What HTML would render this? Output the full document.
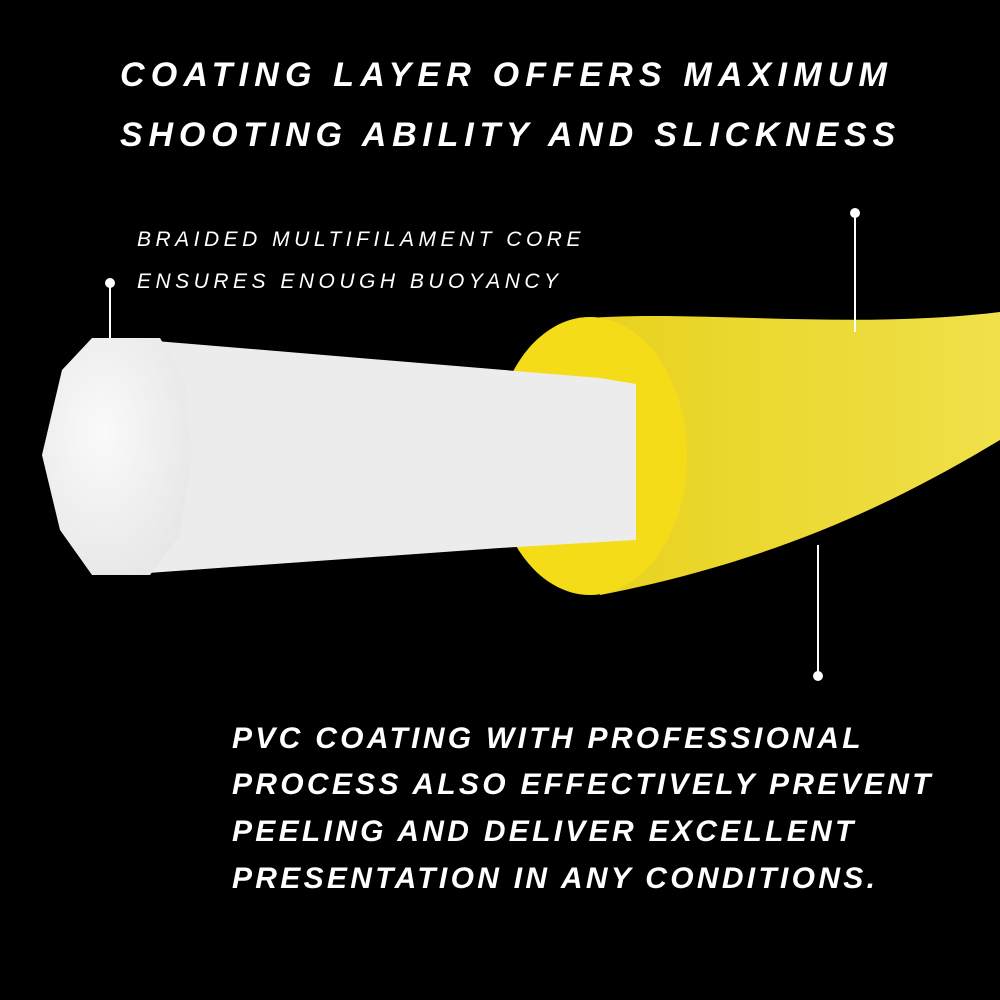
<!DOCTYPE html>
<html><head><meta charset="utf-8"><style>
html,body{margin:0;padding:0;background:#000;}
.w{position:relative;width:1000px;height:1000px;background:#000;overflow:hidden;font-family:"Liberation Sans",sans-serif;color:#fff;}
.t{position:absolute;font-style:italic;font-weight:bold;white-space:nowrap;}
svg{position:absolute;left:0;top:0}
</style></head><body><div class="w">
<svg width="1000" height="1000" viewBox="0 0 1000 1000">
<defs>
<linearGradient id="y" x1="0" y1="0" x2="1" y2="0">
<stop offset="0" stop-color="#e8d21e"/><stop offset="1" stop-color="#f0e04a"/></linearGradient>
<radialGradient id="wf" cx="0.4" cy="0.4" r="0.7"><stop offset="0" stop-color="#fafafa"/><stop offset="1" stop-color="#e6e6e6"/></radialGradient>
</defs>
<path d="M590 318 C700 310 850 330 1000 312 L1000 440 C900 500 780 560 600 595 Z" fill="url(#y)"/>
<ellipse cx="590" cy="456" rx="97" ry="139" fill="#f5dc18"/>
<path d="M120 338 L600 378 L636 384 L636 540 L500 548 L120 575 Z" fill="#ececec"/>
<polygon points="92,338 160,338 185,380 192,455 180,535 150,575 92,575 60,530 42,455 62,370" fill="url(#wf)"/>
<g stroke="#fff" stroke-width="2"><line x1="110" y1="283" x2="110" y2="338"/><line x1="855" y1="213" x2="855" y2="332"/><line x1="818" y1="545" x2="818" y2="676"/></g>
<g fill="#fff"><circle cx="110" cy="283" r="5"/><circle cx="855" cy="213" r="5"/><circle cx="818" cy="676" r="5"/></g>
</svg>
<div class="t" style="left:120px;top:56px;font-size:34px;letter-spacing:6.2px;">COATING LAYER OFFERS MAXIMUM</div>
<div class="t" style="left:120px;top:116px;font-size:34px;letter-spacing:5.8px;">SHOOTING ABILITY AND SLICKNESS</div>
<div class="t" style="left:137px;top:228px;font-size:21px;letter-spacing:4.5px;font-weight:normal;">BRAIDED MULTIFILAMENT CORE</div>
<div class="t" style="left:137px;top:270px;font-size:21px;letter-spacing:4.5px;font-weight:normal;">ENSURES ENOUGH BUOYANCY</div>
<div class="t" style="left:232px;top:722px;font-size:30px;letter-spacing:3.3px;">PVC COATING WITH PROFESSIONAL</div>
<div class="t" style="left:232px;top:768px;font-size:30px;letter-spacing:3.3px;">PROCESS ALSO EFFECTIVELY PREVENT</div>
<div class="t" style="left:232px;top:815px;font-size:30px;letter-spacing:3.3px;">PEELING AND DELIVER EXCELLENT</div>
<div class="t" style="left:232px;top:862px;font-size:30px;letter-spacing:3.3px;">PRESENTATION IN ANY CONDITIONS.</div>
</div></body></html>
